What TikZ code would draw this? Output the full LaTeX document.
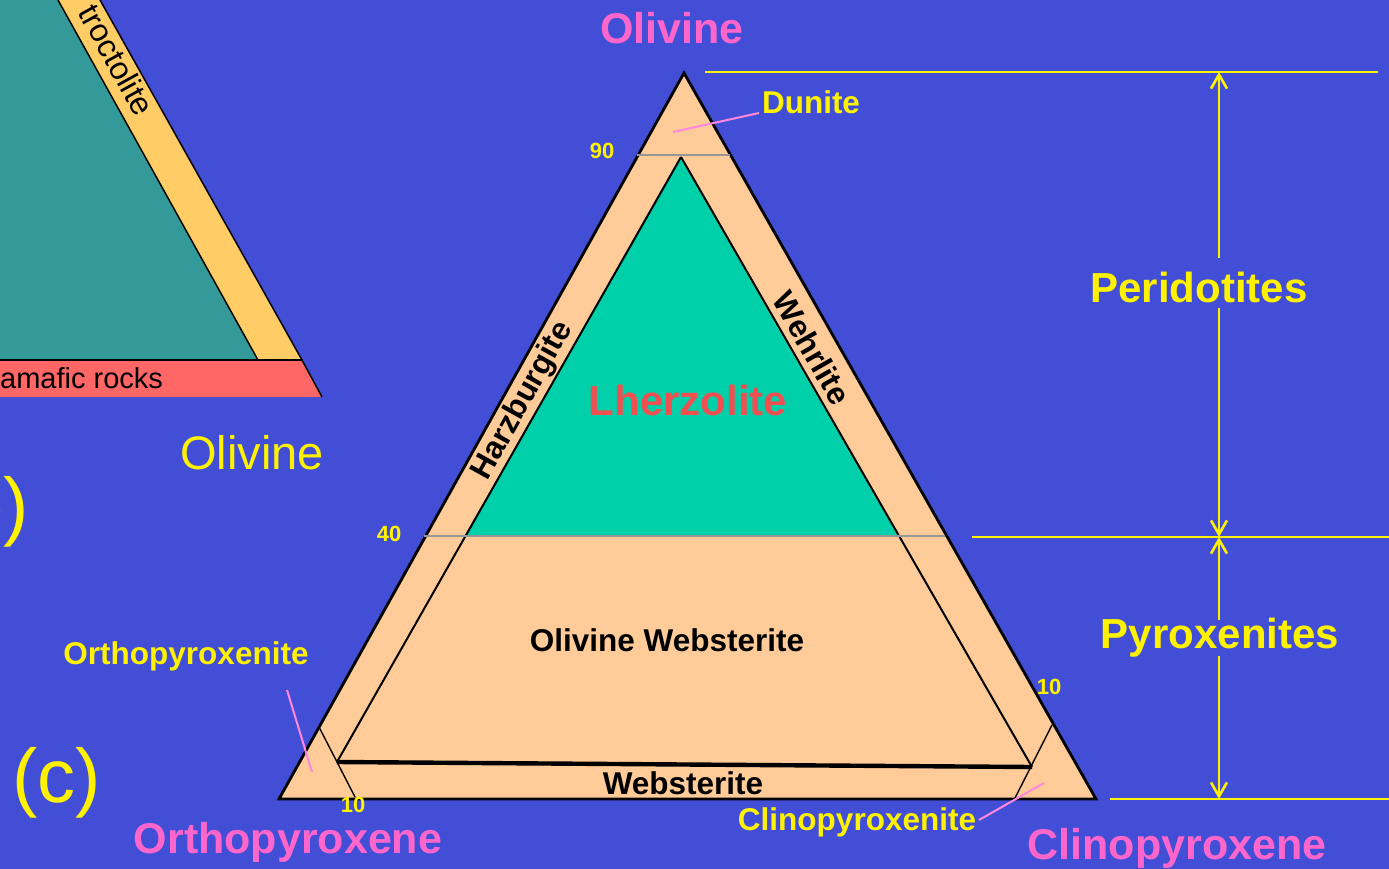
\documentclass[tikz,border=0pt]{standalone}
\usepackage{fontspec}
\setmainfont{Liberation Sans}
\usetikzlibrary{arrows.meta}
\definecolor{bg}{RGB}{67,78,214}
\definecolor{peach}{RGB}{255,204,153}
\definecolor{lherz}{RGB}{0,208,170}
\definecolor{pinkt}{RGB}{255,102,204}
\definecolor{leader}{RGB}{255,136,221}
\definecolor{lred}{RGB}{240,80,80}
\definecolor{tealb}{RGB}{51,153,153}
\definecolor{bandc}{RGB}{255,204,102}
\definecolor{redband}{RGB}{255,102,102}
\definecolor{grayline}{RGB}{150,150,150}
\begin{document}
\begin{tikzpicture}[x=1pt,y=-1pt,
  bigpink/.style={font=\fontsize{43}{48}\selectfont\bfseries, text=pinkt, inner sep=0pt},
  bigyel/.style={font=\fontsize{42}{48}\selectfont\bfseries, text=yellow, inner sep=0pt},
  midyel/.style={font=\fontsize{31.5}{36}\selectfont\bfseries, text=yellow, inner sep=0pt},
  midblk/.style={font=\fontsize{31.5}{36}\selectfont\bfseries, text=black, inner sep=0pt},
  numlab/.style={font=\fontsize{22}{24}\selectfont\bfseries, text=yellow, inner sep=0pt},
  leadline/.style={draw=leader, line width=2pt},
  yline/.style={draw=yellow, line width=2.6pt},
  yarrow/.style={draw=yellow, line width=2.6pt, -{Straight Barb[length=14pt,width=16pt,line width=2.6pt]}},
  edge/.style={draw=black, line width=2.8pt},
  thin/.style={draw=black, line width=1.5pt},
  grayl/.style={draw=grayline, line width=2.4pt}
]
\useasboundingbox (0,0) rectangle (1389,869);
\clip (0,0) rectangle (1389,869);
\fill[bg] (0,0) rectangle (1389,869);

% ---------- left panel (b) ----------
\fill[tealb] (0,0) -- (58,0) -- (258,360) -- (0,360) -- cycle;
\fill[bandc] (58,0) -- (100,0) -- (302,360) -- (258,360) -- cycle;
\fill[redband] (0,360) -- (302,360) -- (322,397) -- (0,397) -- cycle;
\draw[thin] (58,0) -- (258,360);
\draw[thin] (100,0) -- (302,360) -- (322,397);
\draw[black, line width=2.2pt] (0,360) -- (303,360);
\node[rotate=-61, font=\fontsize{32}{36}\selectfont, inner sep=0pt] (troc) at (117,60) {troctolite};
\node[anchor=west, font=\fontsize{29}{34}\selectfont, inner sep=0pt] (ultra) at (0,378) {amafic rocks};
\node[font=\fontsize{47}{54}\selectfont, text=yellow, inner sep=0pt] (olb) at (252,453) {Olivine};
\node[anchor=east, font=\fontsize{76}{86}\selectfont, text=yellow, inner sep=0pt] (lb) at (29,512) {(b)};
\node[font=\fontsize{76}{86}\selectfont, text=yellow, inner sep=0pt] (lc) at (57,783) {(c)};

% ---------- main triangle ----------
\coordinate (A) at (684,73);
\coordinate (BL) at (279,799);
\coordinate (BR) at (1096,799);
\coordinate (I) at (681,157);
\coordinate (IL) at (337,762);
\coordinate (IR) at (1032,767);
\coordinate (L40) at (465,536);
\coordinate (R40) at (898,536);

\fill[peach] (A) -- (BL) -- (BR) -- cycle;
\fill[lherz] (I) -- (L40) -- (R40) -- cycle;
\draw[thin, line width=2pt] (I) -- (IL);
\draw[thin, line width=2pt] (I) -- (IR);
\draw[black, line width=4.4pt] (IL) -- (IR);
\draw[thin, line width=1.4pt] (319,727) -- (355,797);
\draw[thin, line width=1.4pt] (1052,725) -- (1015,798);
\draw[edge, line join=miter] (A) -- (BL) -- (BR) -- cycle;
\draw[grayl] (637,155) -- (730,155);
\draw[grayl] (424,536) -- (945,536);

% labels inside
\node[font=\fontsize{42}{48}\selectfont\bfseries, text=lred, inner sep=0pt] (lherzl) at (688,400) {Lherzolite};
\node[midblk, rotate=60.9] (harz) at (523,401) {Harzburgite};
\node[midblk, rotate=-60.3] (wehr) at (812,348) {Wehrlite};
\node[midblk] (olweb) at (667,640) {Olivine Websterite};
\node[midblk] (web) at (683,783) {Websterite};

% numbers
\node[numlab] (n90) at (602,151) {90};
\node[numlab] (n40) at (389,534) {40};
\node[numlab] (n10a) at (353,805) {10};
\node[numlab] (n10b) at (1049,687) {10};

% corner labels
\node[bigpink] (olv) at (672,28) {Olivine};
\node[bigpink] (opx) at (288,842) {Orthopyroxene};
\node[bigpink] (cpx) at (1177,848) {Clinopyroxene};

\node[midyel] (dun) at (811,102) {Dunite};
\node[midyel] (opxite) at (186,656) {Orthopyroxenite};
\node[midyel] (cpxite) at (857,822) {Clinopyroxenite};

% leaders
\coordinate (dA) at (673,132);
\coordinate (dB) at (759,113);
\coordinate (oA) at (287,690);
\coordinate (oB) at (312,772);
\coordinate (cA) at (1044,783);
\coordinate (cB) at (979,820);
\draw[leadline] (dA) -- (dB);
\draw[leadline] (oA) -- (oB);
\draw[leadline] (cA) -- (cB);

% ---------- right scale ----------
\draw[yline] (705,72) -- (1378,72);
\draw[yline] (972,537) -- (1389,537);
\draw[yline] (1110,799) -- (1389,799);

\node[bigyel] (perid) at (1199,287) {Peridotites};
\node[bigyel] (pyrox) at (1220,638) {Pyroxenites};

\coordinate (s0) at (1219,72);
\coordinate (s1) at (1219,258);
\coordinate (s2) at (1219,308);
\coordinate (s3) at (1219,537);
\coordinate (s4) at (1219,620);
\coordinate (s5) at (1219,656);
\coordinate (s6) at (1219,799);
\draw[yarrow] (s1) -- (s0);
\draw[yarrow] (s2) -- (s3);
\draw[yarrow] (s4) -- (s3);
\draw[yarrow] (s5) -- (s6);
\end{tikzpicture}
\end{document}
